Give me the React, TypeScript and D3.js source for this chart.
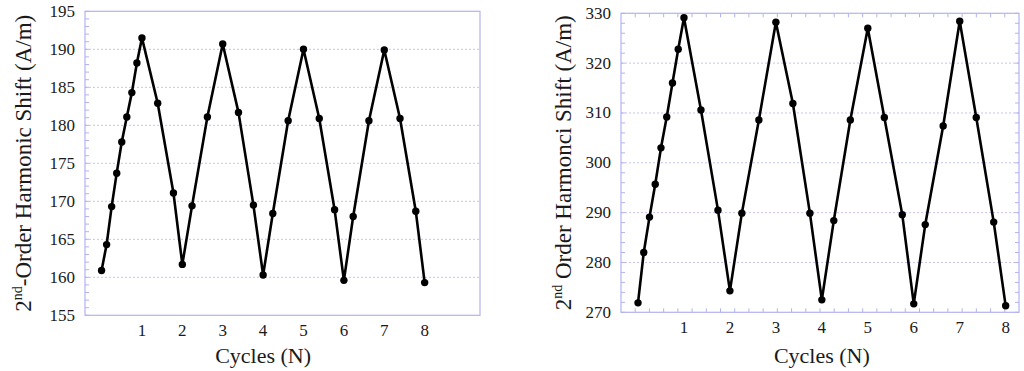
import React, { useEffect, useRef } from "react";
import * as d3 from "d3";

// left panel: 2nd-order harmonic shift
const leftCycles = [0, 0.125, 0.25, 0.375, 0.5, 0.625, 0.75, 0.875, 1, 1.39, 1.78, 2, 2.24, 2.62, 3, 3.39, 3.76, 4, 4.24, 4.62, 5, 5.39, 5.77, 6, 6.23, 6.62, 7, 7.39, 7.78, 8];
const leftShift = [160.9, 164.3, 169.3, 173.7, 177.8, 181.1, 184.3, 188.2, 191.5, 182.9, 171.1, 161.7, 169.4, 181.1, 190.7, 181.7, 169.5, 160.3, 168.4, 180.6, 190.0, 180.9, 168.9, 159.6, 168.0, 180.6, 189.9, 180.9, 168.7, 159.3];
const leftYTicks = [155, 160, 165, 170, 175, 180, 185, 190, 195];

// right panel
const rightCycles = [0, 0.125, 0.25, 0.375, 0.5, 0.625, 0.75, 0.875, 1, 1.37, 1.74, 2, 2.26, 2.63, 3, 3.37, 3.74, 4, 4.26, 4.62, 5, 5.36, 5.75, 6, 6.25, 6.64, 7, 7.36, 7.74, 8];
const rightShift = [271.9, 282.0, 289.1, 295.7, 303.0, 309.2, 316.0, 322.8, 329.1, 310.6, 290.5, 274.3, 289.9, 308.6, 328.2, 311.9, 289.9, 272.5, 288.4, 308.6, 327.0, 309.1, 289.6, 271.7, 287.6, 307.4, 328.4, 309.1, 288.1, 271.3];
const rightYTicks = [270, 280, 290, 300, 310, 320, 330];

const xTickLabels = ["1", "2", "3", "4", "5", "6", "7", "8"];

const FRAME = "#b3b3f2";
const GRID = "#c4c4f4";
const FONT = "'Liberation Serif', 'Times New Roman', serif";

function drawPanel(svg, opts) {
  const { xs, ys, xDomain, xRange, yDomain, yRange, yTicks, yMinorStep, xMinorCount, allTicks, preLabel, labelX } = opts;
  const x = d3.scaleLinear().domain(xDomain).range(xRange);
  const y = d3.scaleLinear().domain(yDomain).range(yRange);
  const g = svg.append("g");
  const [x0, x1] = xRange;
  const [yb, yt] = yRange;

  // dotted grid
  g.selectAll(".grid")
    .data(yTicks.slice(1, -1))
    .enter()
    .append("line")
    .attr("x1", x0).attr("x2", x1)
    .attr("y1", d => y(d)).attr("y2", d => y(d))
    .attr("stroke", GRID)
    .attr("stroke-width", 1)
    .attr("stroke-dasharray", "2,2");

  // minor ticks on y
  const yMinor = d3.range(yDomain[0], yDomain[1] + 0.001, yMinorStep);
  g.selectAll(".ytl")
    .data(yMinor)
    .enter()
    .append("line")
    .attr("x1", x0).attr("x2", x0 + 4)
    .attr("y1", d => y(d)).attr("y2", d => y(d))
    .attr("stroke", FRAME);
  if (allTicks) {
    g.selectAll(".ytr")
      .data(yMinor)
      .enter()
      .append("line")
      .attr("x1", x1).attr("x2", x1 - 4)
      .attr("y1", d => y(d)).attr("y2", d => y(d))
      .attr("stroke", FRAME);
    const step = (xDomain[1] - xDomain[0]) / xMinorCount;
    const xMinor = d3.range(1, xMinorCount).map(i => xDomain[0] + i * step);
    ["top", "bottom"].forEach(side => {
      g.selectAll(".xt" + side)
        .data(xMinor)
        .enter()
        .append("line")
        .attr("x1", d => x(d)).attr("x2", d => x(d))
        .attr("y1", side === "top" ? yt : yb)
        .attr("y2", side === "top" ? yt + 4 : yb - 4)
        .attr("stroke", FRAME);
    });
  }

  // frame
  g.append("rect")
    .attr("x", x0).attr("y", yt)
    .attr("width", x1 - x0).attr("height", yb - yt)
    .attr("fill", "none")
    .attr("stroke", FRAME)
    .attr("stroke-width", 1.2);

  // y tick labels
  g.selectAll(".ylab")
    .data(yTicks)
    .enter()
    .append("text")
    .attr("x", x0 - 10)
    .attr("y", d => y(d) + 5.5)
    .attr("text-anchor", "end")
    .attr("font-family", FONT)
    .attr("font-size", 17)
    .attr("fill", "#1a1a1a")
    .text(d => d);

  // x tick labels
  g.selectAll(".xlab")
    .data(xTickLabels)
    .enter()
    .append("text")
    .attr("x", d => x(+d))
    .attr("y", yb + 21)
    .attr("text-anchor", "middle")
    .attr("font-family", FONT)
    .attr("font-size", 17)
    .attr("fill", "#1a1a1a")
    .text(d => d);

  // axis titles
  g.append("text")
    .attr("x", (x(0) + x(8)) / 2)
    .attr("y", 363)
    .attr("text-anchor", "middle")
    .attr("font-family", FONT)
    .attr("font-size", 22)
    .attr("fill", "#1a1a1a")
    .text("Cycles (N)");

  const yl = g.append("text")
    .attr("transform", `translate(${labelX}, ${(yb + yt) / 2}) rotate(-90)`)
    .attr("text-anchor", "middle")
    .attr("font-family", FONT)
    .attr("font-size", 23)
    .attr("fill", "#1a1a1a");
  yl.append("tspan").text("2");
  yl.append("tspan").attr("font-size", 14).attr("dy", -9).text("nd");
  yl.append("tspan").attr("dy", 9).text(preLabel + " (A/m)");

  // series
  const pts = xs.map((v, i) => [v, ys[i]]);
  g.append("path")
    .datum(pts)
    .attr("fill", "none")
    .attr("stroke", "#000")
    .attr("stroke-width", 2.6)
    .attr("stroke-linejoin", "round")
    .attr("d", d3.line().x(d => x(d[0])).y(d => y(d[1])));
  g.selectAll(".pt")
    .data(pts)
    .enter()
    .append("circle")
    .attr("cx", d => x(d[0]))
    .attr("cy", d => y(d[1]))
    .attr("r", 3.7)
    .attr("fill", "#000");
}

const App = () => {
  const ref = useRef(null);

  useEffect(() => {
    const svg = d3.select(ref.current);
    svg.selectAll("*").remove();

    drawPanel(svg, {
      xs: leftCycles, ys: leftShift,
      xDomain: [-0.41, 9.37], xRange: [85, 480],
      yDomain: [155, 195], yRange: [315.3, 11.3],
      yTicks: leftYTicks, yMinorStep: 1,
      xMinorCount: 28, allTicks: false,
      preLabel: "-Order Harmonic Shift", labelX: 31,
    });
    drawPanel(svg, {
      xs: rightCycles, ys: rightShift,
      xDomain: [-0.37, 8.29], xRange: [621, 1019],
      yDomain: [270, 330], yRange: [312.3, 13.3],
      yTicks: rightYTicks, yMinorStep: 2,
      xMinorCount: 28, allTicks: true,
      preLabel: " Order Harmonci Shift", labelX: 571,
    });
  }, []);

  return (
    <div style={{ position: "fixed", left: 0, top: 0, background: "#fff" }}>
      <svg ref={ref} width={1024} height={371} style={{ display: "block" }}></svg>
    </div>
  );
};

export default App;
